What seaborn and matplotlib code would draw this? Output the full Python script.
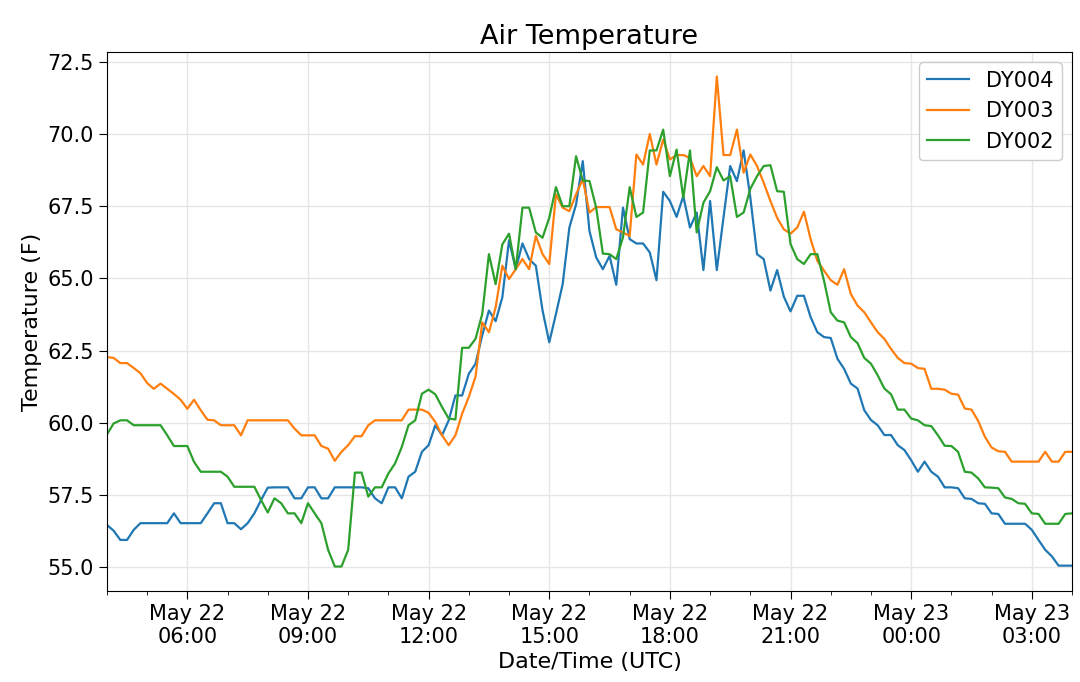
import numpy as np
import pandas as pd
import matplotlib
matplotlib.use("Agg")
import matplotlib.pyplot as plt
import matplotlib.dates as mdates
import seaborn as sns

start_time = "2019-05-22 04:00"
interval = "10min"
stations = ["DY004", "DY003", "DY002"]
colors = ["#1f77b4", "#ff7f0e", "#2ca02c"]

dy004 = [56.47, 56.27, 55.95, 55.95, 56.30, 56.53, 56.53, 56.53, 56.53, 56.53, 56.87, 56.53, 56.53,
         56.53, 56.53, 56.87, 57.22, 57.22, 56.53, 56.53, 56.32, 56.53, 56.87, 57.33, 57.76,
         57.77, 57.77, 57.77, 57.39, 57.39, 57.77, 57.77, 57.39, 57.39, 57.77, 57.77, 57.77,
         57.77, 57.77, 57.74, 57.39, 57.22, 57.77, 57.77, 57.39, 58.14, 58.31, 59.00, 59.23,
         59.92, 59.57, 60.09, 60.95, 60.95, 61.70, 62.05, 63.03, 63.89, 63.52, 64.35, 66.32,
         65.32, 66.21, 65.67, 65.44, 63.89, 62.79, 63.77, 64.80, 66.76, 67.56, 69.06, 66.64,
         65.73, 65.32, 65.78, 64.78, 67.45, 66.36, 66.21, 66.21, 65.90, 64.94, 68.00, 67.68,
         67.13, 67.85, 66.76, 67.28, 65.29, 67.68, 65.29, 67.11, 68.89, 68.37, 69.43, 67.80,
         65.84, 65.67, 64.58, 65.29, 64.37, 63.86, 64.40, 64.40, 63.66, 63.14, 62.97, 62.94,
         62.22, 61.87, 61.36, 61.19, 60.44, 60.10, 59.92, 59.58, 59.58, 59.23, 59.06, 58.71,
         58.31, 58.66, 58.31, 58.14, 57.77, 57.77, 57.74, 57.39, 57.37, 57.22, 57.20, 56.87,
         56.85, 56.51, 56.51, 56.51, 56.51, 56.30, 55.95, 55.61, 55.38, 55.06, 55.06, 55.06]

dy003 = [62.28, 62.25, 62.07, 62.07, 61.90, 61.72, 61.38, 61.18, 61.36, 61.18, 61.00, 60.80, 60.49,
         60.80, 60.44, 60.11, 60.09, 59.92, 59.92, 59.92, 59.57, 60.09, 60.09, 60.09, 60.09,
         60.09, 60.09, 60.09, 59.80, 59.57, 59.57, 59.57, 59.20, 59.11, 58.69, 59.00, 59.23,
         59.54, 59.54, 59.92, 60.09, 60.09, 60.09, 60.09, 60.09, 60.46, 60.46, 60.46, 60.35,
         60.03, 59.57, 59.23, 59.57, 60.32, 60.90, 61.60, 63.48, 63.14, 64.00, 65.44, 64.98,
         65.32, 65.67, 65.32, 66.47, 65.84, 65.50, 67.91, 67.45, 67.33, 67.91, 68.43, 67.28,
         67.47, 67.47, 67.47, 66.70, 66.59, 66.47, 69.29, 68.94, 70.00, 68.94, 69.81, 69.12,
         69.27, 69.27, 69.17, 68.54, 68.89, 68.54, 71.99, 69.27, 69.27, 70.15, 68.66, 69.29,
         68.89, 68.31, 67.68, 67.10, 66.70, 66.55, 66.76, 67.31, 66.36, 65.61, 65.27, 64.94,
         64.78, 65.32, 64.46, 64.06, 63.83, 63.48, 63.14, 62.91, 62.56, 62.25, 62.07, 62.05,
         61.90, 61.87, 61.18, 61.18, 61.15, 61.01, 60.98, 60.50, 60.46, 60.07, 59.52, 59.15,
         59.02, 59.00, 58.66, 58.66, 58.66, 58.66, 58.66, 59.00, 58.66, 58.66, 59.00, 59.00]

dy002 = [59.60, 59.98, 60.09, 60.09, 59.92, 59.92, 59.92, 59.92, 59.92, 59.57, 59.20, 59.20, 59.20,
         58.65, 58.31, 58.31, 58.31, 58.31, 58.14, 57.79, 57.79, 57.79, 57.79, 57.33, 56.90,
         57.39, 57.22, 56.87, 56.87, 56.53, 57.22, 56.87, 56.53, 55.61, 55.03, 55.03, 55.61,
         58.28, 58.28, 57.45, 57.77, 57.77, 58.25, 58.60, 59.17, 59.92, 60.09, 61.01, 61.15,
         60.99, 60.55, 60.15, 60.12, 62.60, 62.60, 62.91, 63.77, 65.84, 64.80, 66.18, 66.55,
         65.32, 67.45, 67.45, 66.59, 66.41, 67.10, 68.16, 67.50, 67.50, 69.23, 68.39, 68.37,
         67.45, 65.86, 65.84, 65.67, 66.42, 68.16, 67.13, 67.28, 69.43, 69.43, 70.15, 68.54,
         69.46, 67.79, 69.43, 66.59, 67.62, 68.02, 68.85, 68.39, 68.54, 67.13, 67.28, 68.10,
         68.54, 68.89, 68.92, 68.02, 68.00, 66.19, 65.67, 65.50, 65.84, 65.84, 64.92, 63.83,
         63.54, 63.48, 62.97, 62.76, 62.25, 62.05, 61.65, 61.19, 60.99, 60.46, 60.46, 60.15,
         60.09, 59.92, 59.89, 59.57, 59.21, 59.20, 59.00, 58.31, 58.28, 58.08, 57.77, 57.76,
         57.74, 57.42, 57.37, 57.22, 57.20, 56.87, 56.85, 56.51, 56.51, 56.51, 56.85, 56.87]

times = pd.date_range(start_time, periods=len(dy004), freq=interval)
frames = []
for name, vals in zip(stations, [dy004, dy003, dy002]):
    frames.append(pd.DataFrame({"time": times, "temp": vals, "station": name}))
df = pd.concat(frames, ignore_index=True)

fig = plt.figure(figsize=(10.8, 6.82), dpi=100)
ax = fig.add_axes([0.099, 0.1334, 0.8936, 0.7904])

sns.lineplot(data=df, x="time", y="temp", hue="station", hue_order=stations,
             palette=colors, linewidth=1.6, ax=ax)

ax.set_xlim(times[0], times[-1])
ax.margins(x=0)
ax.xaxis.set_major_locator(mdates.HourLocator(byhour=[0, 3, 6, 9, 12, 15, 18, 21]))
ax.xaxis.set_minor_locator(mdates.HourLocator())
ax.xaxis.set_major_formatter(mdates.DateFormatter("%b %d\n%H:%M"))
ax.yaxis.set_major_locator(plt.MultipleLocator(2.5))
ax.yaxis.set_major_formatter(plt.FormatStrFormatter("%.1f"))

ax.grid(True, which="major", color="#e6e6e6", linewidth=1.0)
ax.set_axisbelow(True)
ax.tick_params(axis="both", which="major", labelsize=15, length=6)
ax.tick_params(axis="x", which="minor", length=3)

ax.set_title("Air Temperature", fontsize=19.5)
ax.set_xlabel("Date/Time (UTC)", fontsize=16, labelpad=3)
ax.set_ylabel("Temperature (F)", fontsize=16)

handles, labels = ax.get_legend_handles_labels()
ax.legend(handles, labels, loc="upper right", fontsize=15, framealpha=1.0)

fig.savefig("out.png", dpi=100)
